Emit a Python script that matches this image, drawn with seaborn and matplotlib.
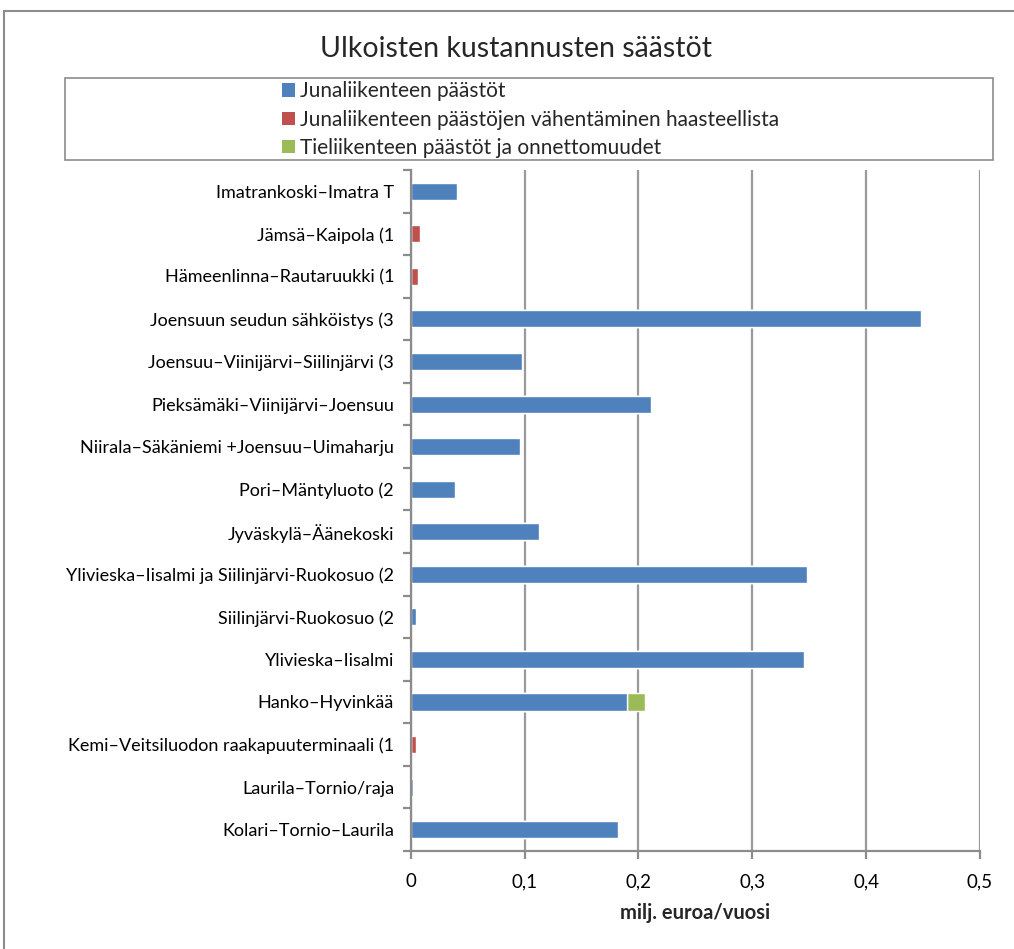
import matplotlib
matplotlib.use("Agg")
import matplotlib.pyplot as plt
from matplotlib.patches import Rectangle, Patch
from matplotlib.ticker import MultipleLocator, FuncFormatter
import seaborn as sns
import pandas as pd

routes = [
    "Imatrankoski–Imatra T",
    "Jämsä–Kaipola (1",
    "Hämeenlinna–Rautaruukki (1",
    "Joensuun seudun sähköistys (3",
    "Joensuu–Viinijärvi–Siilinjärvi (3",
    "Pieksämäki–Viinijärvi–Joensuu",
    "Niirala–Säkäniemi +Joensuu–Uimaharju",
    "Pori–Mäntyluoto (2",
    "Jyväskylä–Äänekoski",
    "Ylivieska–Iisalmi ja Siilinjärvi-Ruokosuo (2",
    "Siilinjärvi-Ruokosuo (2",
    "Ylivieska–Iisalmi",
    "Hanko–Hyvinkää",
    "Kemi–Veitsiluodon raakapuuterminaali (1",
    "Laurila–Tornio/raja",
    "Kolari–Tornio–Laurila",
]
train_emissions = [0.041, 0.0, 0.0, 0.448, 0.098, 0.211, 0.096, 0.039,
                   0.113, 0.348, 0.005, 0.345, 0.190, 0.0, 0.002, 0.182]
train_hard_to_reduce = [0.0, 0.008, 0.006, 0.0, 0.0, 0.0, 0.0, 0.0,
                        0.0, 0.0, 0.0, 0.0, 0.0, 0.005, 0.0, 0.0]
road_emissions_accidents = [0.0, 0.0, 0.0, 0.0, 0.0, 0.0, 0.0, 0.0,
                            0.0, 0.0, 0.0, 0.0, 0.016, 0.0, 0.0, 0.0]
series_names = [
    "Junaliikenteen päästöt",
    "Junaliikenteen päästöjen vähentäminen haasteellista",
    "Tieliikenteen päästöt ja onnettomuudet",
]
colors = ["#4F81BD", "#C0504D", "#9BBB59"]

df = pd.DataFrame({
    "route": routes,
    "s1": train_emissions,
    "s2": train_hard_to_reduce,
    "s3": road_emissions_accidents,
})
# cumulative ends for stacking (drawn back to front)
df["c1"] = df["s1"]
df["c2"] = df["s1"] + df["s2"]
df["c3"] = df["c2"] + df["s3"]

sns.set_theme(style="white")
plt.rcParams["font.family"] = ["Lato", "DejaVu Sans"]

fig = plt.figure(figsize=(10.14, 9.49), dpi=100)
ax = fig.add_axes([0.405, 0.1033, 0.5615, 0.7176])

for col, c in zip(["c3", "c2", "c1"], colors[::-1]):
    sns.barplot(data=df, x=col, y="route", orient="h", color=c,
                width=0.4, saturation=1, ax=ax, order=routes)

ax.set_xlim(0, 0.5)
ax.set_ylim(len(routes) - 0.5, -0.5)
ax.xaxis.set_major_locator(MultipleLocator(0.1))
ax.xaxis.set_major_formatter(FuncFormatter(lambda v, p: ("%g" % round(v, 2)).replace(".", ",")))
ax.grid(axis="x", color="#9a9a9a", linewidth=1.6)
ax.set_axisbelow(True)
for s in ["top", "right"]:
    ax.spines[s].set_visible(False)
for s in ["left", "bottom"]:
    ax.spines[s].set_color("#8c8c8c")
    ax.spines[s].set_linewidth(1.6)

# ticks between categories, like the category boundaries
ax.set_yticks(range(len(routes)))
ax.set_yticks([i + 0.5 for i in range(-1, len(routes))], minor=True)
ax.tick_params(axis="y", which="major", length=0, labelsize=13, pad=12, colors="black")
ax.tick_params(axis="y", which="minor", length=6, width=1.6, color="#8c8c8c", left=True)
ax.tick_params(axis="x", which="major", length=6, width=1.6, color="#8c8c8c",
               labelsize=13.5, pad=10, bottom=True, labelcolor="black")
ax.set_ylabel("")
ax.set_xlabel("milj. euroa/vuosi", fontsize=14.5, fontweight="bold", labelpad=9)

fig.suptitle("Ulkoisten kustannusten säästöt", fontsize=20.5, x=0.509, y=0.962)

# outer chart frame
fig.patches.append(Rectangle((4 / 1014, -0.1), 1.2, 1 - 11 / 949 + 0.1,
                             transform=fig.transFigure, fill=False,
                             edgecolor="#8c8c8c", linewidth=1.5))
# legend box
fig.patches.append(Rectangle((65 / 1014, 1 - 160 / 949), 928 / 1014, 82 / 949,
                             transform=fig.transFigure, fill=False,
                             edgecolor="#8c8c8c", linewidth=1.2))
handles = [Patch(facecolor=c, edgecolor="none", label=n) for c, n in zip(colors, series_names)]
fig.legend(handles=handles, loc="upper left",
           bbox_to_anchor=(274 / 1014, 1 - 73 / 949), frameon=False,
           fontsize=15, handlelength=0.6, handleheight=0.6,
           handletextpad=0.25, labelspacing=0.4, borderaxespad=0)

fig.savefig("out.png", dpi=100)
